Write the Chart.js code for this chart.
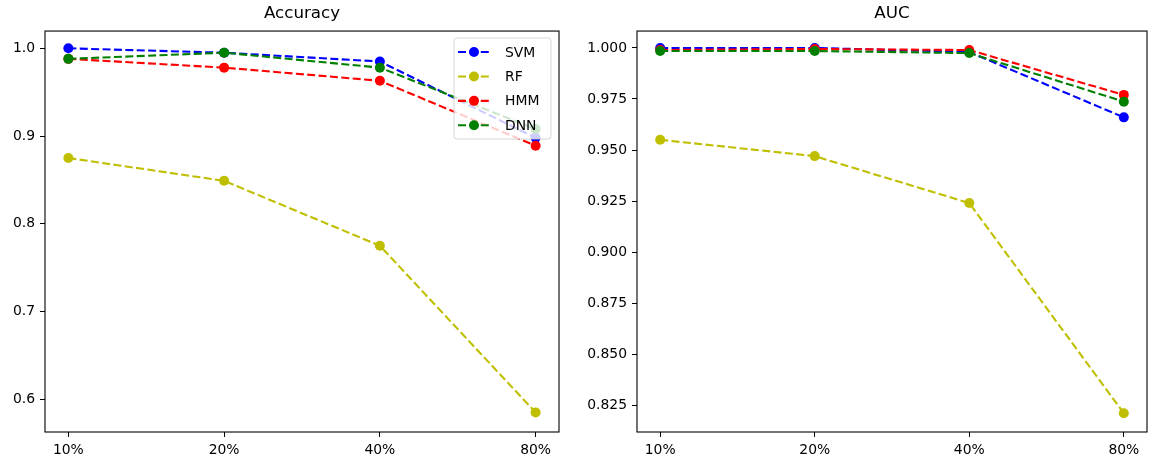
<!DOCTYPE html>
<html>
<head>
<meta charset="utf-8">
<script src="https://cdn.jsdelivr.net/npm/chart.js@4.4.1/dist/chart.umd.min.js"></script>
<style>
  html, body { margin: 0; padding: 0; background: #fff; }
  #wrap { position: relative; width: 1152px; height: 462px; }
  canvas { position: absolute; top: 0; }
  #accChart { left: 0; }
  #aucChart { left: 576px; }
</style>
</head>
<body>
<div id="wrap">
  <canvas id="accChart" width="576" height="462"></canvas>
  <canvas id="aucChart" width="576" height="462"></canvas>
</div>
<script>
// ---- data ----
const categories = ['10%', '20%', '40%', '80%'];
const seriesNames = ['SVM', 'RF', 'HMM', 'DNN'];
const seriesColors = ['#0000ff', '#bfbf00', '#ff0000', '#008000'];

const accSVM = [1.000, 0.995, 0.985, 0.898];
const accRF  = [0.875, 0.849, 0.775, 0.585];
const accHMM = [0.988, 0.978, 0.963, 0.889];
const accDNN = [0.988, 0.995, 0.978, 0.908];

const aucSVM = [1.000, 1.000, 0.998, 0.966];
const aucRF  = [0.955, 0.947, 0.924, 0.821];
const aucHMM = [0.999, 0.9995, 0.999, 0.977];
const aucDNN = [0.9985, 0.9985, 0.9975, 0.9737];

const accTicks = [0.6, 0.7, 0.8, 0.9, 1.0];
const aucTicks = [0.825, 0.850, 0.875, 0.900, 0.925, 0.950, 0.975, 1.000];
const accRange = [0.5627, 1.0197];
const aucRange = [0.8118, 1.0083];

const FONT = 'DejaVu Sans';
const DASH = [8, 3.4];
const DOT = 5;

// ---- helpers ----
function makeDatasets(values) {
    return values.map((vals, i) => ({
        label: seriesNames[i],
        data: vals.map((v, j) => ({ x: j, y: v })),
        borderColor: seriesColors[i],
        backgroundColor: seriesColors[i],
        pointBackgroundColor: seriesColors[i],
        pointBorderColor: seriesColors[i],
        borderWidth: 2.1,
        borderDash: DASH,
        pointRadius: DOT,
        pointBorderWidth: 0,
        pointHoverRadius: DOT,
        tension: 0,
        fill: false,
        order: 3 - i   // last plotted series ends up on top
    }));
}

// spines all around the plot area
const framePlugin = {
    id: 'frame',
    afterDatasetsDraw(chart) {
        const a = chart.chartArea;
        const ctx = chart.ctx;
        ctx.save();
        ctx.strokeStyle = '#000';
        ctx.lineWidth = 1.1;
        ctx.strokeRect(a.left, a.top, a.right - a.left, a.bottom - a.top);
        ctx.restore();
    }
};

// matplotlib style legend in the upper right corner
const legendPlugin = {
    id: 'mplLegend',
    afterDraw(chart) {
        const a = chart.chartArea;
        const ctx = chart.ctx;
        const w = 97, h = 101;
        const x0 = a.right - 8 - w;
        const y0 = a.top + 7;
        ctx.save();
        ctx.beginPath();
        ctx.roundRect(x0, y0, w, h, 3);
        ctx.fillStyle = 'rgba(255,255,255,0.8)';
        ctx.fill();
        ctx.strokeStyle = 'rgba(204,204,204,0.8)';
        ctx.lineWidth = 1;
        ctx.stroke();

        seriesNames.forEach((name, i) => {
            const cy = y0 + 14 + i * 24.4;
            ctx.strokeStyle = seriesColors[i];
            ctx.lineWidth = 2.1;
            ctx.setLineDash(DASH);
            ctx.beginPath();
            ctx.moveTo(x0 + 4, cy);
            ctx.lineTo(x0 + 37, cy);
            ctx.stroke();
            ctx.setLineDash([]);
            ctx.fillStyle = seriesColors[i];
            ctx.beginPath();
            ctx.arc(x0 + 20, cy, DOT, 0, Math.PI * 2);
            ctx.fill();
            ctx.fillStyle = '#000';
            ctx.font = '13.9px "' + FONT + '"';
            ctx.textBaseline = 'middle';
            ctx.textAlign = 'left';
            ctx.fillText(name, x0 + 51, cy + 1);
        });
        ctx.restore();
    }
};

function buildChart(canvasId, title, values, yTicks, yRange, decimals, yWidth, padRight, withLegend) {
    const plugins = [framePlugin];
    if (withLegend) plugins.push(legendPlugin);

    return new Chart(document.getElementById(canvasId), {
        type: 'line',
        data: { datasets: makeDatasets(values) },
        plugins: plugins,
        options: {
            responsive: false,
            devicePixelRatio: 1,
            animation: false,
            events: [],
            layout: { padding: { left: 0, right: padRight, top: 0, bottom: 0 } },
            plugins: {
                legend: { display: false },
                tooltip: { enabled: false },
                title: {
                    display: true,
                    text: title,
                    fullSize: false,
                    color: '#000',
                    font: { family: FONT, size: 16.7, weight: 'normal' },
                    padding: { top: 4, bottom: 7 }
                }
            },
            scales: {
                x: {
                    type: 'linear',
                    min: -0.15,
                    max: 3.15,
                    afterBuildTicks: (axis) => { axis.ticks = categories.map((c, i) => ({ value: i })); },
                    afterFit: (axis) => { axis.height = 30; },
                    border: { display: false },
                    grid: { drawOnChartArea: false, drawTicks: true, tickLength: 5, color: '#000', lineWidth: 1 },
                    ticks: {
                        color: '#000',
                        padding: 5,
                        maxRotation: 0,
                        font: { family: FONT, size: 13.9 },
                        callback: (v) => categories[v]
                    }
                },
                y: {
                    type: 'linear',
                    min: yRange[0],
                    max: yRange[1],
                    afterBuildTicks: (axis) => { axis.ticks = yTicks.map(v => ({ value: v })); },
                    afterFit: (axis) => { axis.width = yWidth; },
                    border: { display: false },
                    grid: { drawOnChartArea: false, drawTicks: true, tickLength: 5, color: '#000', lineWidth: 1 },
                    ticks: {
                        color: '#000',
                        padding: 5,
                        font: { family: FONT, size: 13.9 },
                        callback: (v) => Number(v).toFixed(decimals)
                    }
                }
            }
        }
    });
}

buildChart('accChart', 'Accuracy', [accSVM, accRF, accHMM, accDNN], accTicks, accRange, 1, 45, 17, true);
buildChart('aucChart', 'AUC', [aucSVM, aucRF, aucHMM, aucDNN], aucTicks, aucRange, 3, 61, 3, false);
</script>
</body>
</html>
